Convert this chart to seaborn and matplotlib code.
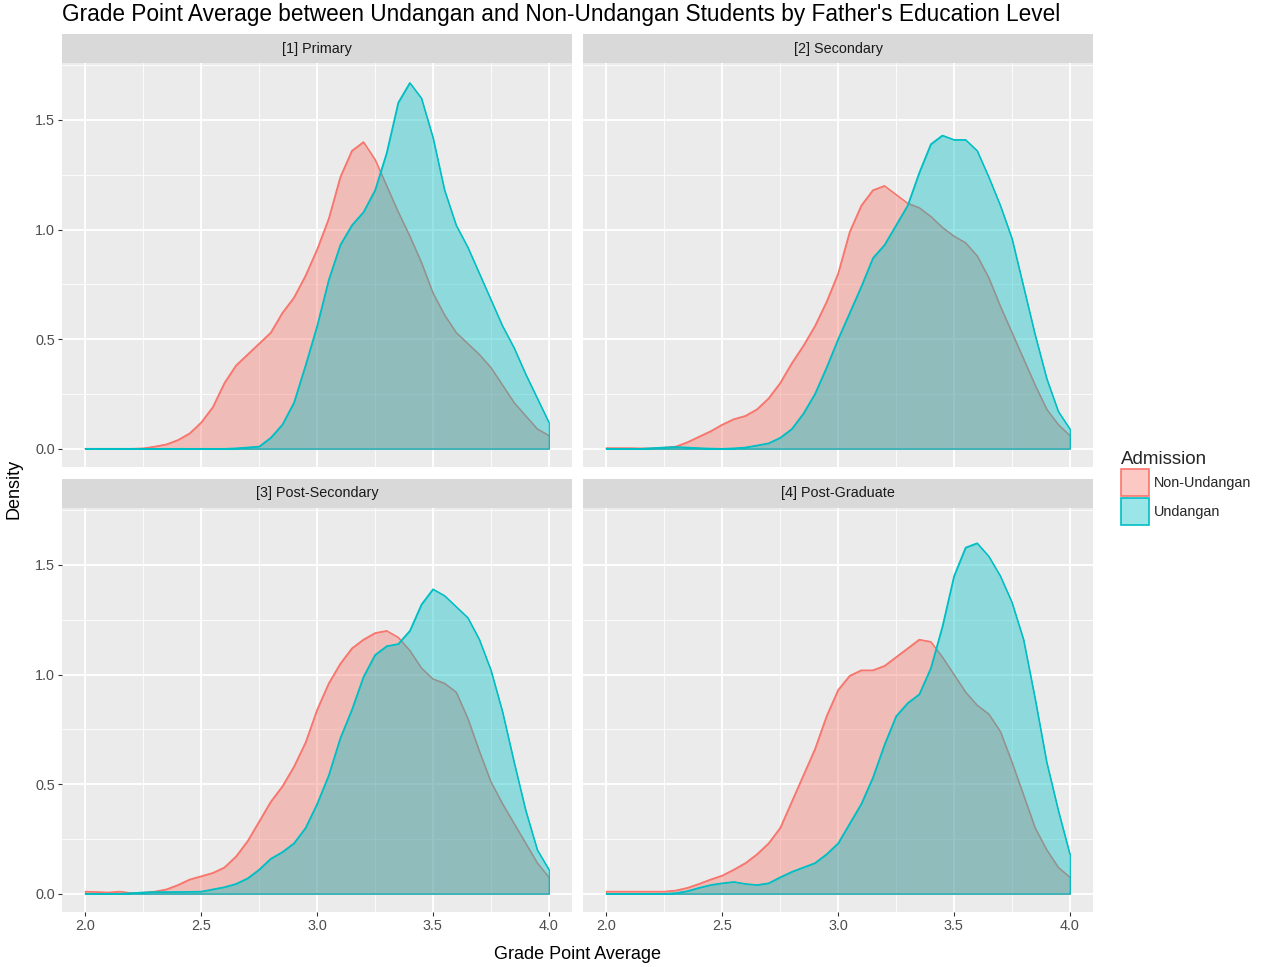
import numpy as np
import pandas as pd
import matplotlib
matplotlib.use("Agg")
import matplotlib.pyplot as plt
import seaborn as sns
from matplotlib.patches import Patch
from matplotlib.colors import to_rgba
from matplotlib.ticker import MultipleLocator, FormatStrFormatter

# ---------------- data ----------------
GPA = [2.00, 2.05, 2.10, 2.15, 2.20, 2.25, 2.30, 2.35, 2.40, 2.45,
       2.50, 2.55, 2.60, 2.65, 2.70, 2.75, 2.80, 2.85, 2.90, 2.95,
       3.00, 3.05, 3.10, 3.15, 3.20, 3.25, 3.30, 3.35, 3.40, 3.45,
       3.50, 3.55, 3.60, 3.65, 3.70, 3.75, 3.80, 3.85, 3.90, 3.95, 4.00]

LEVELS = ["[1] Primary", "[2] Secondary", "[3] Post-Secondary", "[4] Post-Graduate"]
GROUPS = ["Non-Undangan", "Undangan"]

primary_non = [0, 0, 0, 0, 0, 0.002, 0.01, 0.02, 0.04, 0.07,
               0.12, 0.19, 0.30, 0.38, 0.43, 0.48, 0.53, 0.62, 0.69, 0.79,
               0.91, 1.05, 1.24, 1.36, 1.40, 1.32, 1.20, 1.08, 0.97, 0.85,
               0.71, 0.61, 0.53, 0.48, 0.43, 0.37, 0.29, 0.21, 0.15, 0.09, 0.06]
primary_und = [0, 0, 0, 0, 0, 0, 0, 0, 0, 0,
               0, 0, 0, 0.002, 0.006, 0.01, 0.05, 0.11, 0.21, 0.38,
               0.56, 0.77, 0.93, 1.02, 1.08, 1.18, 1.35, 1.58, 1.67, 1.60,
               1.42, 1.18, 1.02, 0.92, 0.80, 0.68, 0.56, 0.46, 0.34, 0.23, 0.12]

secondary_non = [0.003, 0.003, 0.003, 0.002, 0.002, 0.005, 0.01, 0.03, 0.055, 0.08,
                 0.11, 0.135, 0.15, 0.18, 0.23, 0.30, 0.39, 0.47, 0.56, 0.67,
                 0.80, 0.99, 1.11, 1.18, 1.20, 1.16, 1.12, 1.10, 1.06, 1.01,
                 0.97, 0.94, 0.88, 0.78, 0.65, 0.53, 0.41, 0.29, 0.18, 0.11, 0.06]
secondary_und = [0, 0, 0, 0, 0.003, 0.006, 0.008, 0.006, 0.003, 0.001,
                 0, 0.002, 0.006, 0.015, 0.025, 0.05, 0.09, 0.16, 0.25, 0.37,
                 0.50, 0.62, 0.74, 0.87, 0.93, 1.02, 1.11, 1.26, 1.39, 1.43,
                 1.41, 1.41, 1.36, 1.24, 1.11, 0.96, 0.74, 0.52, 0.32, 0.17, 0.09]

postsec_non = [0.01, 0.008, 0.006, 0.01, 0.003, 0.005, 0.01, 0.02, 0.04, 0.065,
               0.08, 0.095, 0.12, 0.17, 0.24, 0.33, 0.42, 0.49, 0.58, 0.69,
               0.84, 0.96, 1.05, 1.12, 1.16, 1.19, 1.20, 1.17, 1.11, 1.03,
               0.98, 0.96, 0.92, 0.80, 0.65, 0.51, 0.41, 0.32, 0.23, 0.14, 0.075]
postsec_und = [0, 0, 0, 0, 0.003, 0.006, 0.008, 0.008, 0.008, 0.009,
               0.01, 0.02, 0.03, 0.045, 0.07, 0.11, 0.16, 0.19, 0.23, 0.30,
               0.41, 0.54, 0.71, 0.84, 0.99, 1.09, 1.13, 1.14, 1.20, 1.32,
               1.39, 1.36, 1.31, 1.26, 1.16, 1.02, 0.83, 0.60, 0.38, 0.20, 0.11]

postgrad_non = [0.01, 0.01, 0.01, 0.01, 0.01, 0.01, 0.015, 0.027, 0.045, 0.065,
                0.083, 0.11, 0.14, 0.18, 0.23, 0.30, 0.42, 0.54, 0.66, 0.81,
                0.93, 0.995, 1.02, 1.02, 1.04, 1.08, 1.12, 1.16, 1.15, 1.08,
                1.00, 0.92, 0.86, 0.82, 0.74, 0.60, 0.45, 0.30, 0.20, 0.12, 0.075]
postgrad_und = [0, 0, 0, 0, 0, 0, 0.003, 0.012, 0.027, 0.04,
                0.048, 0.054, 0.045, 0.04, 0.048, 0.075, 0.10, 0.12, 0.14, 0.18,
                0.23, 0.32, 0.41, 0.53, 0.68, 0.81, 0.87, 0.91, 1.03, 1.22,
                1.45, 1.58, 1.60, 1.54, 1.45, 1.33, 1.16, 0.89, 0.60, 0.38, 0.18]

SERIES = {
    LEVELS[0]: (primary_non, primary_und),
    LEVELS[1]: (secondary_non, secondary_und),
    LEVELS[2]: (postsec_non, postsec_und),
    LEVELS[3]: (postgrad_non, postgrad_und),
}

X_TICKS = [2.0, 2.5, 3.0, 3.5, 4.0]
Y_TICKS = [0.0, 0.5, 1.0, 1.5]

COLORS = {"Non-Undangan": "#F8766D", "Undangan": "#00BFC4"}

rows = []
for lvl in LEVELS:
    for g, vals in zip(GROUPS, SERIES[lvl]):
        for x, d in zip(GPA, vals):
            rows.append((lvl, g, x, d))
df = pd.DataFrame(rows, columns=["level", "admission", "gpa", "density"])

# ---------------- styling ----------------
sns.set_theme(style="darkgrid", rc={
    "axes.facecolor": "#EBEBEB",
    "grid.color": "white",
    "axes.edgecolor": "none",
})
plt.rcParams["font.family"] = ["Liberation Sans", "DejaVu Sans"]

W, H = 1271, 967
fig = plt.figure(figsize=(W / 100, H / 100), dpi=100)
fig.patch.set_facecolor("white")

LEFTS = [62, 583]
TOPS = [63, 508]
PW, PH = 510, 404
STRIP_H = 29

TICK_FS = 10.4
for i, lvl in enumerate(LEVELS):
    r, c = divmod(i, 2)
    L, T = LEFTS[c], TOPS[r]
    ax = fig.add_axes([L / W, 1 - (T + PH) / H, PW / W, PH / H])
    ax.set_facecolor("#EBEBEB")
    sub = df[df.level == lvl]
    for k, g in enumerate(GROUPS):
        s = sub[sub.admission == g]
        ax.fill_between(s.gpa, 0, s.density, facecolor=to_rgba(COLORS[g], 0.4),
                        edgecolor=COLORS[g], linewidth=0.9, zorder=2 + 2 * k)
        sns.lineplot(data=s, x="gpa", y="density", color=COLORS[g], linewidth=0.9,
                     ax=ax, zorder=3 + 2 * k, legend=False)
    ax.set_xlim(1.9, 4.1)
    ax.set_ylim(-0.084, 1.76)
    ax.set_xticks(X_TICKS)
    ax.set_yticks(Y_TICKS)
    ax.xaxis.set_minor_locator(MultipleLocator(0.25))
    ax.yaxis.set_minor_locator(MultipleLocator(0.25))
    ax.yaxis.set_major_formatter(FormatStrFormatter("%.1f"))
    ax.xaxis.set_major_formatter(FormatStrFormatter("%.1f"))
    ax.grid(which="major", color="white", linewidth=1.3)
    ax.grid(which="minor", color="white", linewidth=0.6)
    ax.set_axisbelow(True)
    ax.set_xlabel("")
    ax.set_ylabel("")
    for sp in ax.spines.values():
        sp.set_visible(False)
    ax.tick_params(which="minor", length=0)
    ax.tick_params(which="major", length=3, width=0.8, color="#333333",
                   labelcolor="#4D4D4D", labelsize=TICK_FS, pad=2)
    ax.tick_params(axis="x", bottom=(r == 1), labelbottom=(r == 1))
    ax.tick_params(axis="y", left=(c == 0), labelleft=(c == 0))

    # facet strip
    sax = fig.add_axes([L / W, 1 - T / H, PW / W, STRIP_H / H])
    sax.set_facecolor("#D9D9D9")
    sax.grid(False)
    sax.set_xticks([])
    sax.set_yticks([])
    for sp in sax.spines.values():
        sp.set_visible(False)
    sax.text(0.5, 0.5, lvl, ha="center", va="center", fontsize=TICK_FS,
             color="#1A1A1A", transform=sax.transAxes)

fig.text(62 / W, 1 - 21 / H,
         "Grade Point Average between Undangan and Non-Undangan Students by Father's Education Level",
         fontsize=16.3, color="black", ha="left", va="baseline")
fig.text(577 / W, 1 - 959 / H, "Grade Point Average", fontsize=13,
         ha="center", va="baseline", color="black")
fig.text(14 / W, 1 - 489 / H, "Density", fontsize=13, rotation=90,
         ha="center", va="center", color="black")

handles = [Patch(facecolor=to_rgba(COLORS[g], 0.4), edgecolor=COLORS[g], linewidth=1.2)
           for g in GROUPS]
fig.legend(handles, GROUPS, title="Admission", loc="upper left",
           bbox_to_anchor=(1121 / W, 1 - 451 / H), frameon=False,
           fontsize=TICK_FS, title_fontsize=13.5, handlelength=1.95, handleheight=2.5,
           handletextpad=0.3, labelspacing=0.1, borderpad=0, borderaxespad=0,
           alignment="left")

fig.savefig("out.png", dpi=100)
